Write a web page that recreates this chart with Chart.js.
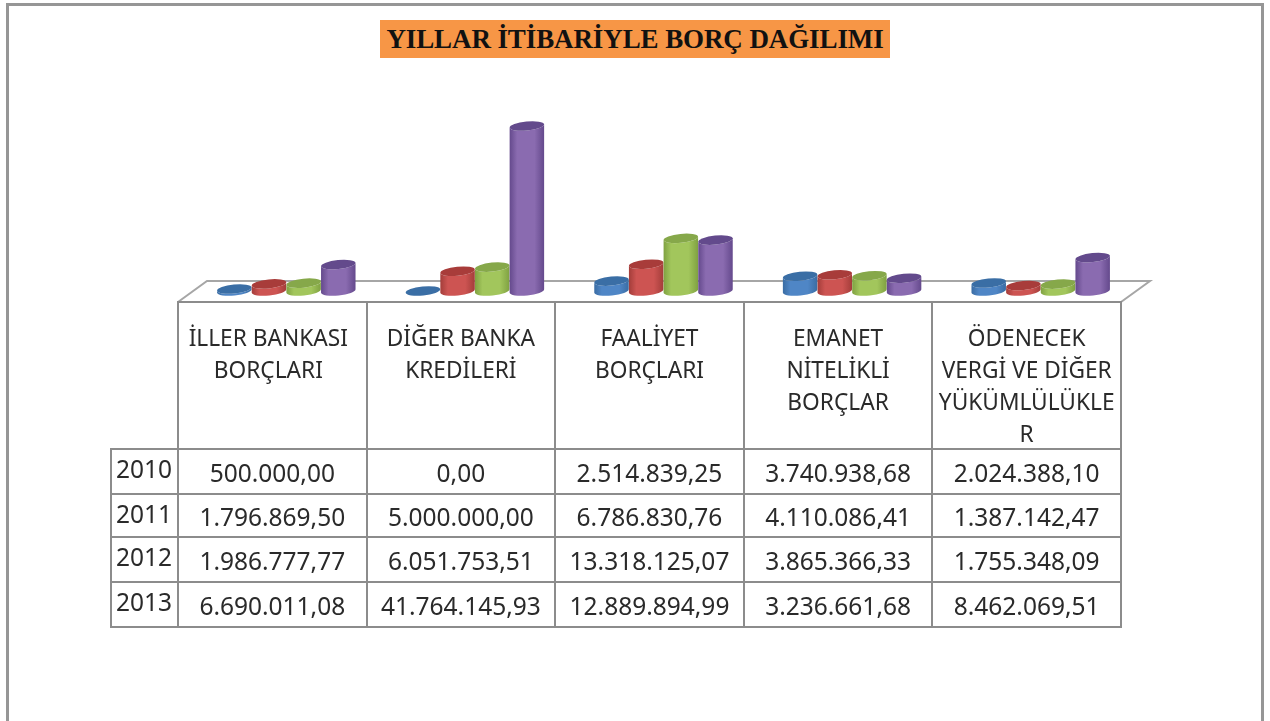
<!DOCTYPE html>
<html lang="tr">
<head>
<meta charset="utf-8">
<style>
  html, body { margin: 0; padding: 0; background: #fff; }
  #page { position: relative; width: 1270px; height: 721px; overflow: hidden; filter: blur(0.45px); }
  #frame { position: absolute; left: 6px; top: 3px; width: 1258px; height: 730px; border: 3px solid #969696; box-sizing: border-box; }
  #chart { position: absolute; left: 0; top: 0; }
  #title {
    position: absolute; left: 380px; top: 20px; width: 510px; height: 38px;
    background: #f79646; text-align: center; color: #111;
    font: bold 27px/38px "Liberation Serif", serif; white-space: nowrap; letter-spacing: -0.1px;
  }
  #table {
    position: absolute; left: 110px; top: 301px; width: 1010px; table-layout: fixed;
    border-collapse: collapse; font-family: "Noto Sans", sans-serif; font-size: 24.5px; color: #2a2a2a;
  }
  #table td, #table th { border: 2px solid #8c8c8c; font-weight: normal; padding: 0; text-align: center; box-sizing: border-box; }
  #table th { vertical-align: top; font-size: 22.7px; line-height: 32px; padding-top: 17px; height: 147px; }
  #table th span { position: relative; top: 2px; }
  #table td { line-height: 38px; padding-top: 2px; white-space: nowrap; }
  #table td.year { text-align: left; padding: 1px 0 0 4px; line-height: 36px; vertical-align: top; }
  #table th.blank { border-top: none; border-left: none; }
  #table tr.r0 td, #table tr.r2 td, #table tr.r3 td { height: 45px; }
  #table tr.r1 td { height: 43px; }
  #table th.nudge { padding-right: 8px; }
</style>
</head>
<body>
<div id="page">
  <div id="frame"></div>
  <canvas id="chart" width="1270" height="721"></canvas>
  <div id="title">YILLAR İTİBARİYLE BORÇ DAĞILIMI</div>
  <table id="table"></table>
</div>
<script src="https://cdn.jsdelivr.net/npm/chart.js@4/dist/chart.umd.min.js"></script>
<script>
const categories = ['İLLER BANKASI BORÇLARI', 'DİĞER BANKA KREDİLERİ', 'FAALİYET BORÇLARI', 'EMANET NİTELİKLİ BORÇLAR', 'ÖDENECEK VERGİ VE DİĞER YÜKÜMLÜLÜKLER']
const headerLines = [
  ['İLLER BANKASI', 'BORÇLARI'],
  ['DİĞER BANKA', 'KREDİLERİ'],
  ['FAALİYET', 'BORÇLARI'],
  ['EMANET', 'NİTELİKLİ', 'BORÇLAR'],
  ['ÖDENECEK', 'VERGİ VE DİĞER', 'YÜKÜMLÜLÜKLE', 'R']
]
const years = ['2010', '2011', '2012', '2013']
const values2010 = [500000.00, 0.00, 2514839.25, 3740938.68, 2024388.10]
const values2011 = [1796869.50, 5000000.00, 6786830.76, 4110086.41, 1387142.47]
const values2012 = [1986777.77, 6051753.51, 13318125.07, 3865366.33, 1755348.09]
const values2013 = [6690011.08, 41764145.93, 12889894.99, 3236661.68, 8462069.51]
const allValues = [values2010, values2011, values2012, values2013]

// side, light middle, top of each cylinder
const palette = [
  { edge: '#3a6ca3', mid: '#4f86c6', top: '#3a6ea5' },
  { edge: '#a33d3a', mid: '#cd5452', top: '#a83c3a' },
  { edge: '#7fa141', mid: '#a2c65c', top: '#86a84a' },
  { edge: '#64498c', mid: '#8a6bb0', top: '#634a8c' }
]

function formatTr(v) {
  return v.toLocaleString('tr-TR', { minimumFractionDigits: 2, maximumFractionDigits: 2 })
}

/* Table under the chart */
let html = '<colgroup><col style="width:67px">' + categories.map(() => '<col style="width:188.6px">').join('') + '</colgroup>'
html += '<tr><th class="blank"></th>' + headerLines.map((l, i) => '<th' + (i == 0 ? ' class="nudge"' : '') + '><span>' + l.join('<br>') + '</span></th>').join('') + '</tr>'
years.forEach((y, i) => {
  html += '<tr class="r' + i + '"><td class="year">' + y + '</td>' + allValues[i].map(v => '<td>' + formatTr(v) + '</td>').join('') + '</tr>'
})
document.getElementById('table').innerHTML = html

/* Draws the floor and turns each bar element into a cylinder */
const cylinderPlugin = {
  id: 'cylinders',
  beforeDatasetsDraw(chart) {
    const ctx = chart.ctx
    const area = chart.chartArea
    // floor, relative to the plot area
    const frontL = area.left - 14, frontR = area.right - 14, frontY = area.bottom + 11
    const backL = area.left + 15, backR = area.right + 15, backY = area.bottom - 10
    ctx.save()
    ctx.strokeStyle = '#a6a6a6'
    ctx.lineWidth = 2
    ctx.beginPath()
    ctx.moveTo(frontL, frontY)
    ctx.lineTo(backL, backY)
    ctx.lineTo(backR, backY)
    ctx.lineTo(frontR, frontY)
    ctx.stroke()
    ctx.restore()

    for (let c = 0; c < categories.length; c++) {
      chart.data.datasets.forEach((ds, d) => {
        const bar = chart.getDatasetMeta(d).data[c]
        drawCylinder(ctx, bar.x, bar.y, bar.base, bar.width, palette[d])
      })
    }
    return false
  }
}

function drawCylinder(ctx, x, top, base, w, col) {
  const rx = w / 2, ry = 4.5, tilt = -0.1
  const grad = ctx.createLinearGradient(x - rx, 0, x + rx, 0)
  grad.addColorStop(0, col.edge)
  grad.addColorStop(0.22, col.mid)
  grad.addColorStop(0.72, col.mid)
  grad.addColorStop(1, col.edge)
  ctx.save()
  if (base - top > 0.5) {
    ctx.fillStyle = grad
    ctx.beginPath()
    ctx.ellipse(x, base, rx, ry, tilt, 0, Math.PI)
    ctx.lineTo(x - rx * Math.cos(tilt), top + rx * Math.sin(-tilt))
    ctx.ellipse(x, top, rx, ry, tilt, Math.PI, 2 * Math.PI, true)
    ctx.closePath()
    ctx.fill()
  }
  ctx.fillStyle = col.top
  ctx.beginPath()
  ctx.ellipse(x, top, rx, ry, tilt, 0, 2 * Math.PI)
  ctx.fill()
  ctx.restore()
}

/* Chart */
const chart = new Chart(document.getElementById('chart'), {
  type: 'bar',
  data: {
    labels: categories,
    datasets: years.map((y, i) => ({ label: y, data: allValues[i], backgroundColor: palette[i].mid }))
  },
  options: {
    responsive: false,
    animation: false,
    layout: { padding: { left: 192, right: 135, top: 93.5, bottom: 430 } },
    categoryPercentage: 0.735,
    barPercentage: 1,
    plugins: { legend: { display: false }, title: { display: false }, tooltip: { enabled: false } },
    scales: {
      x: { display: false },
      y: { display: false, min: 0, max: 50000000 }
    }
  },
  plugins: [cylinderPlugin]
})
</script>
</body>
</html>
